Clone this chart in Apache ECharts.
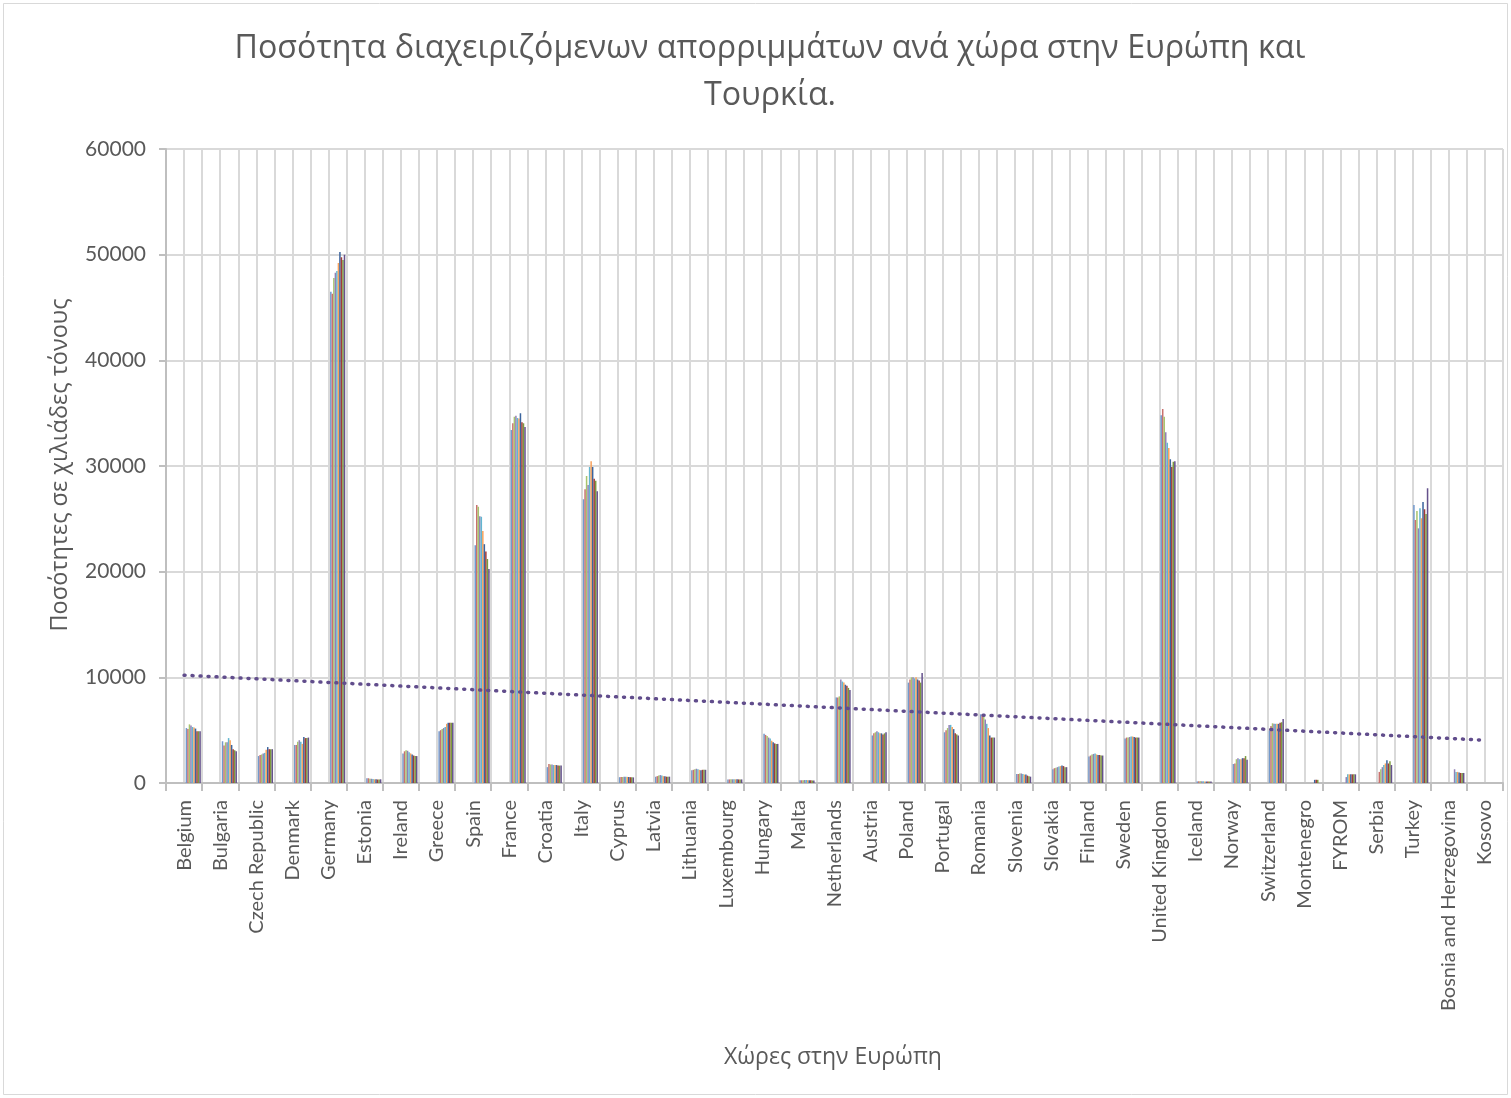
<!DOCTYPE html>
<html>
<head>
<meta charset="utf-8">
<title>Ποσότητα διαχειριζόμενων απορριμμάτων</title>
<script src="https://cdn.jsdelivr.net/npm/echarts@6/dist/echarts.min.js"></script>
<style>
  html, body { margin: 0; padding: 0; background: #ffffff; }
  #chart { width: 1511px; height: 1098px; }
</style>
</head>
<body>
<div id="chart"></div>
<script>
// Countries on the category axis
const countries = [
  'Belgium', 'Bulgaria', 'Czech Republic', 'Denmark', 'Germany', 'Estonia', 'Ireland',
  'Greece', 'Spain', 'France', 'Croatia', 'Italy', 'Cyprus', 'Latvia', 'Lithuania',
  'Luxembourg', 'Hungary', 'Malta', 'Netherlands', 'Austria', 'Poland', 'Portugal',
  'Romania', 'Slovenia', 'Slovakia', 'Finland', 'Sweden', 'United Kingdom', 'Iceland',
  'Norway', 'Switzerland', 'Montenegro', 'FYROM', 'Serbia', 'Turkey',
  'Bosnia and Herzegovina', 'Kosovo'
];

// One bar per year for each country (thousand tonnes)
const years = ['2004', '2005', '2006', '2007', '2008', '2009', '2010', '2011', '2012', '2013'];

const belgium     = [5200, 5100, 5550, 5450, 5300, 5250, 5150, 4900, 4900, 4900];
const bulgaria    = [3950, 3550, 3850, 3850, 4250, 4050, 3600, 3200, 3100, 3000];
const czech       = [2550, 2650, 2700, 2800, 2850, 3150, 3400, 3200, 3200, 3200];
const denmark     = [3600, 3600, 3900, 4050, 3900, 3700, 4350, 4250, 4250, 4300];
const germany     = [46500, 46300, 47800, 48300, 48450, 49200, 50250, 49750, 49500, 50000];
const estonia     = [450, 450, 400, 400, 380, 350, 350, 330, 330, 350];
const ireland     = [2800, 3000, 3100, 3050, 2900, 2800, 2700, 2600, 2550, 2550];
const greece      = [4900, 5000, 5100, 5200, 5300, 5600, 5700, 5700, 5700, 5700];
const spain       = [22500, 26300, 26150, 25250, 25200, 23850, 22600, 21900, 21200, 20250];
const france      = [33400, 34050, 34650, 34750, 34550, 34500, 35000, 34150, 34050, 33700];
const croatia     = [1500, 1800, 1750, 1750, 1700, 1700, 1700, 1650, 1650, 1650];
const italy       = [26850, 27800, 29050, 28200, 29900, 30450, 29900, 28800, 28600, 27600];
const cyprus      = [550, 560, 570, 580, 590, 580, 570, 550, 540, 530];
const latvia      = [600, 650, 700, 750, 700, 650, 650, 600, 600, 600];
const lithuania   = [1200, 1250, 1300, 1350, 1300, 1250, 1200, 1250, 1250, 1250];
const luxembourg  = [330, 340, 350, 350, 350, 350, 350, 340, 340, 340];
const hungary     = [4650, 4550, 4450, 4300, 4200, 4000, 3850, 3750, 3700, 3700];
const malta       = [250, 260, 270, 280, 280, 270, 260, 250, 240, 230];
const netherlands = [8100, 8100, 8200, 9800, 9600, 9500, 9300, 9200, 9000, 8800];
const austria     = [4500, 4700, 4800, 4900, 4800, 4700, 4700, 4600, 4700, 4800];
const poland      = [9500, 9800, 10000, 10000, 9900, 10000, 9800, 9700, 9500, 10400];
const portugal    = [4800, 5000, 5200, 5500, 5500, 5300, 5100, 4700, 4600, 4500];
const romania     = [6500, 6400, 6300, 6000, 5600, 5200, 4500, 4300, 4300, 4300];
const slovenia    = [850, 850, 900, 900, 850, 800, 800, 700, 650, 600];
const slovakia    = [1300, 1400, 1450, 1500, 1550, 1600, 1650, 1600, 1500, 1500];
const finland     = [2500, 2600, 2700, 2750, 2800, 2700, 2650, 2650, 2600, 2600];
const sweden      = [4200, 4300, 4300, 4350, 4400, 4400, 4350, 4300, 4300, 4300];
const uk          = [34800, 35400, 34650, 33200, 32200, 31700, 30650, 29900, 30400, 30450];
const iceland     = [150, 160, 170, 170, 160, 150, 140, 140, 140, 140];
const norway      = [1800, 1850, 2250, 2350, 2250, 2250, 2350, 2350, 2550, 2200];
const switzerland = [4950, 5400, 5650, 5600, 5600, 5600, 5600, 5700, 5750, 6050];
const montenegro  = [null, null, null, null, null, null, 300, 300, 300, null];
const fyrom       = [null, null, null, 560, 820, 820, 820, 820, 820, 820];
const serbia      = [null, 1050, 1300, 1500, 1700, 1850, 2150, 1850, 2050, 1700];
const turkey      = [26300, 24900, 25750, 24100, 26000, 25050, 26600, 25900, 25450, 27900];
const bosnia      = [null, null, null, 1300, 1050, 1050, 1000, 950, 950, 950];
const kosovo      = [null, null, null, null, null, null, null, null, null, null];

const countryValues = [
  belgium, bulgaria, czech, denmark, germany, estonia, ireland, greece, spain, france,
  croatia, italy, cyprus, latvia, lithuania, luxembourg, hungary, malta, netherlands,
  austria, poland, portugal, romania, slovenia, slovakia, finland, sweden, uk, iceland,
  norway, switzerland, montenegro, fyrom, serbia, turkey, bosnia, kosovo
];

// Linear trend line: value at the first and at the last country
const trendEnds = [10200, 4050];

// Y axis ticks
const yTicks = [0, 10000, 20000, 30000, 40000, 50000, 60000];

const yearColors = [
  '#7399cc', '#c9716e', '#a8c46e', '#9181b5', '#62b6d0',
  '#f8a25c', '#3b649e', '#a03c39', '#7c9a3e', '#65528c'
];

const TEXT = '#595959';
const GRID = '#d9d9d9';
const GREEK_FONT = '"Open Sans", "Noto Sans", sans-serif';
const LATIN_FONT = 'Lato, "Open Sans", sans-serif';

const plot = { top: 149, height: 634, width: 1337 };

const barSeries = years.map((year, i) => ({
  name: year,
  type: 'bar',
  xAxisIndex: 2,
  yAxisIndex: 1,
  barGap: '0%',
  barCategoryGap: '58%',
  itemStyle: { color: yearColors[i] },
  data: countryValues.map(row => row[i]),
  silent: true
}));

const trendData = countries.map((c, idx) =>
  idx === 0 ? trendEnds[0] : (idx === countries.length - 1 ? trendEnds[1] : null));

const chart = echarts.init(document.getElementById('chart'), null, { renderer: 'canvas' });

chart.setOption({
  backgroundColor: '#ffffff',
  animation: false,
  grid: [
    { left: 166, top: plot.top, width: plot.width, height: plot.height, containLabel: false },
    { left: 175.2, top: plot.top, width: plot.width, height: plot.height, containLabel: false }
  ],
  xAxis: [
    {
      type: 'category',
      gridIndex: 0,
      data: countries,
      boundaryGap: true,
      axisLine: { show: true, lineStyle: { color: '#bfbfbf', width: 2 } },
      axisTick: { show: true, length: 8, interval: 0, lineStyle: { color: '#bfbfbf', width: 2 } },
      axisLabel: {
        interval: 0,
        rotate: 90,
        margin: 17,
        color: TEXT,
        fontFamily: LATIN_FONT,
        fontSize: 20
      },
      splitLine: { show: false }
    },
    {
      type: 'value',
      gridIndex: 0,
      min: 0,
      max: countries.length,
      interval: 0.5,
      axisLine: { show: false },
      axisTick: { show: false },
      axisLabel: { show: false },
      splitLine: { show: true, lineStyle: { color: GRID, width: 2 } }
    },
    {
      type: 'category',
      gridIndex: 1,
      data: countries,
      boundaryGap: true,
      show: false
    }
  ],
  yAxis: [
    {
      type: 'value',
      gridIndex: 0,
      min: yTicks[0],
      max: yTicks[yTicks.length - 1],
      interval: yTicks[1] - yTicks[0],
      axisLine: { show: true, lineStyle: { color: '#bfbfbf', width: 2 } },
      axisTick: { show: true, length: 7, lineStyle: { color: '#bfbfbf', width: 2 } },
      axisLabel: {
        margin: 20,
        color: TEXT,
        fontFamily: LATIN_FONT,
        fontSize: 21,
        formatter: v => String(v)
      },
      splitLine: { show: true, lineStyle: { color: GRID, width: 2 } }
    },
    {
      type: 'value',
      gridIndex: 1,
      min: yTicks[0],
      max: yTicks[yTicks.length - 1],
      show: false,
      splitLine: { show: false }
    }
  ],
  series: [
    ...barSeries,
    {
      name: 'Γραμμική τάση',
      type: 'line',
      xAxisIndex: 0,
      yAxisIndex: 0,
      data: trendData,
      connectNulls: true,
      symbol: 'none',
      silent: true,
      z: 5,
      lineStyle: { color: '#614d8c', width: 3.5, type: [1, 7], cap: 'round' }
    }
  ],
  graphic: [
    {
      type: 'rect',
      silent: true,
      z: -10,
      shape: { x: 3.5, y: 3.5, width: 1504, height: 1091 },
      style: { fill: 'none', stroke: '#d9d9d9', lineWidth: 1 }
    },
    {
      type: 'text',
      silent: true,
      x: 770,
      y: 25,
      style: {
        text: 'Ποσότητα διαχειριζόμενων απορριμμάτων ανά χώρα στην Ευρώπη και\nΤουρκία.',
        textAlign: 'center',
        textVerticalAlign: 'top',
        lineHeight: 47,
        fill: TEXT,
        fontFamily: GREEK_FONT,
        fontSize: 32.2
      }
    },
    {
      type: 'text',
      silent: true,
      x: 60,
      y: 465,
      rotation: Math.PI / 2,
      style: {
        text: 'Ποσότητες σε χιλιάδες τόνους',
        textAlign: 'center',
        textVerticalAlign: 'middle',
        fill: TEXT,
        fontFamily: GREEK_FONT,
        fontSize: 23.5
      }
    },
    {
      type: 'text',
      silent: true,
      x: 833,
      y: 1057,
      style: {
        text: 'Χώρες στην Ευρώπη',
        textAlign: 'center',
        textVerticalAlign: 'middle',
        fill: TEXT,
        fontFamily: GREEK_FONT,
        fontSize: 23
      }
    }
  ]
});
</script>
</body>
</html>
